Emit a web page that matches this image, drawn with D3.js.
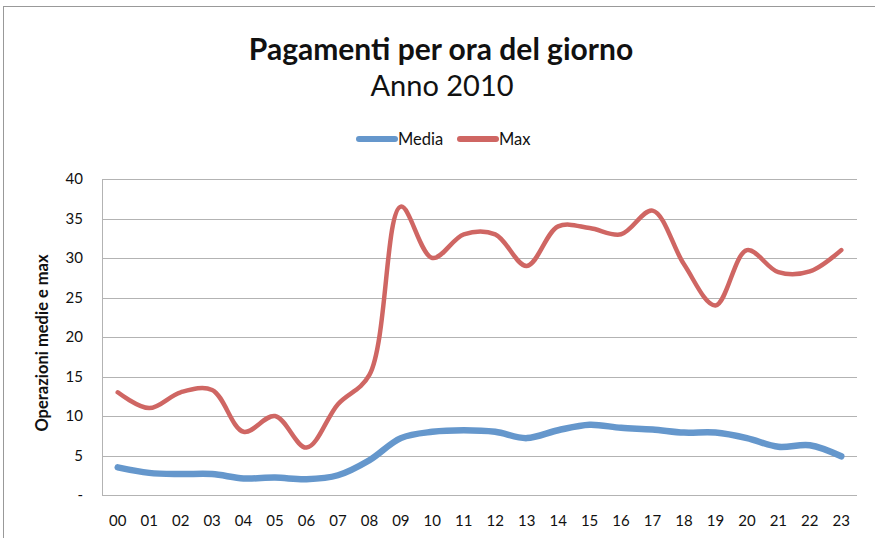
<!DOCTYPE html>
<html>
<head>
<meta charset="utf-8">
<script src="https://cdn.jsdelivr.net/npm/d3@7"></script>
<style>
  body { margin: 0; background: #fff; }
  text { font-family: Lato, "Open Sans", sans-serif; fill: #111; }
</style>
</head>
<body>
<svg id="chart" width="875" height="538"></svg>
<script>
const hours = ["00","01","02","03","04","05","06","07","08","09","10","11",
               "12","13","14","15","16","17","18","19","20","21","22","23"];
const media = [3.5, 2.8, 2.65, 2.65, 2.1, 2.2, 2.0, 2.5, 4.4, 7.2, 8.0, 8.2,
               8.0, 7.2, 8.2, 8.9, 8.5, 8.3, 7.9, 7.9, 7.2, 6.1, 6.3, 4.9];
const max = [13, 11, 13, 13.3, 8, 10, 6, 11.5, 15.2, 36.5, 30, 33,
             33, 29, 34, 33.8, 33, 36, 29.2, 24, 31, 28.2, 28.3, 31];
const yTicks = [0, 5, 10, 15, 20, 25, 30, 35, 40];

const series = [
  { name: "Media", values: media, color: "#6597cc", width: 6.5 },
  { name: "Max", values: max, color: "#cf6663", width: 4.5 }
];

const svg = d3.select("#chart");
const margin = { left: 102, right: 857, top: 179, bottom: 495 };

// outer frame
svg.append("rect")
  .attr("x", 3.5).attr("y", 6.5)
  .attr("width", 900).attr("height", 600)
  .attr("fill", "none").attr("stroke", "#999");

const x = d3.scaleBand().domain(hours).range([margin.left, margin.right]);
const y = d3.scaleLinear().domain([0, 40]).range([margin.bottom, margin.top]);

// gridlines
svg.append("g").selectAll("line")
  .data(yTicks)
  .enter().append("line")
  .attr("x1", margin.left).attr("x2", margin.right)
  .attr("y1", d => Math.round(y(d)) + 0.5).attr("y2", d => Math.round(y(d)) + 0.5)
  .attr("stroke", "#b3b3b3").attr("stroke-width", 1);

// left axis line
svg.append("line")
  .attr("x1", margin.left + 0.5).attr("x2", margin.left + 0.5)
  .attr("y1", margin.top).attr("y2", margin.bottom)
  .attr("stroke", "#b3b3b3");

// y tick labels
svg.append("g").selectAll("text")
  .data(yTicks)
  .enter().append("text")
  .attr("x", 83)
  .attr("y", d => y(d) + 5)
  .attr("text-anchor", "end")
  .style("font-size", "15px")
  .text(d => d === 0 ? "-" : d);

// x tick labels
svg.append("g").selectAll("text")
  .data(hours)
  .enter().append("text")
  .attr("x", d => x(d) + x.bandwidth() / 2)
  .attr("y", 526)
  .attr("text-anchor", "middle")
  .style("font-size", "15px")
  .text(d => d);

// y title
svg.append("text")
  .attr("transform", "translate(48,343) rotate(-90)")
  .attr("text-anchor", "middle")
  .style("font-size", "16.5px")
  .style("font-weight", "bold")
  .text("Operazioni medie e max");

// title
svg.append("text")
  .attr("x", 441).attr("y", 60)
  .attr("text-anchor", "middle")
  .style("font-size", "30px")
  .style("font-weight", "bold")
  .text("Pagamenti per ora del giorno");

svg.append("text")
  .attr("x", 442).attr("y", 96)
  .attr("text-anchor", "middle")
  .style("font-size", "29px")
  .text("Anno 2010");

// lines
const line = d3.line()
  .x((d, i) => x(hours[i]) + x.bandwidth() / 2)
  .y(d => y(d))
  .curve(d3.curveCatmullRom.alpha(0.5));

svg.append("g").selectAll("path")
  .data(series)
  .enter().append("path")
  .attr("d", d => line(d.values))
  .attr("fill", "none")
  .attr("stroke", d => d.color)
  .attr("stroke-width", d => d.width)
  .attr("stroke-linecap", "round")
  .attr("stroke-linejoin", "round");

// legend
const legendX = [359, 460];
const legend = svg.append("g").selectAll("g")
  .data(series)
  .enter().append("g")
  .attr("transform", (d, i) => `translate(${legendX[i]},139)`);

legend.append("line")
  .attr("x1", 0).attr("x2", 36)
  .attr("stroke", d => d.color)
  .attr("stroke-width", 6)
  .attr("stroke-linecap", "round");

legend.append("text")
  .attr("x", 39).attr("y", 6)
  .style("font-size", "16.5px")
  .text(d => d.name);
</script>
</body>
</html>
